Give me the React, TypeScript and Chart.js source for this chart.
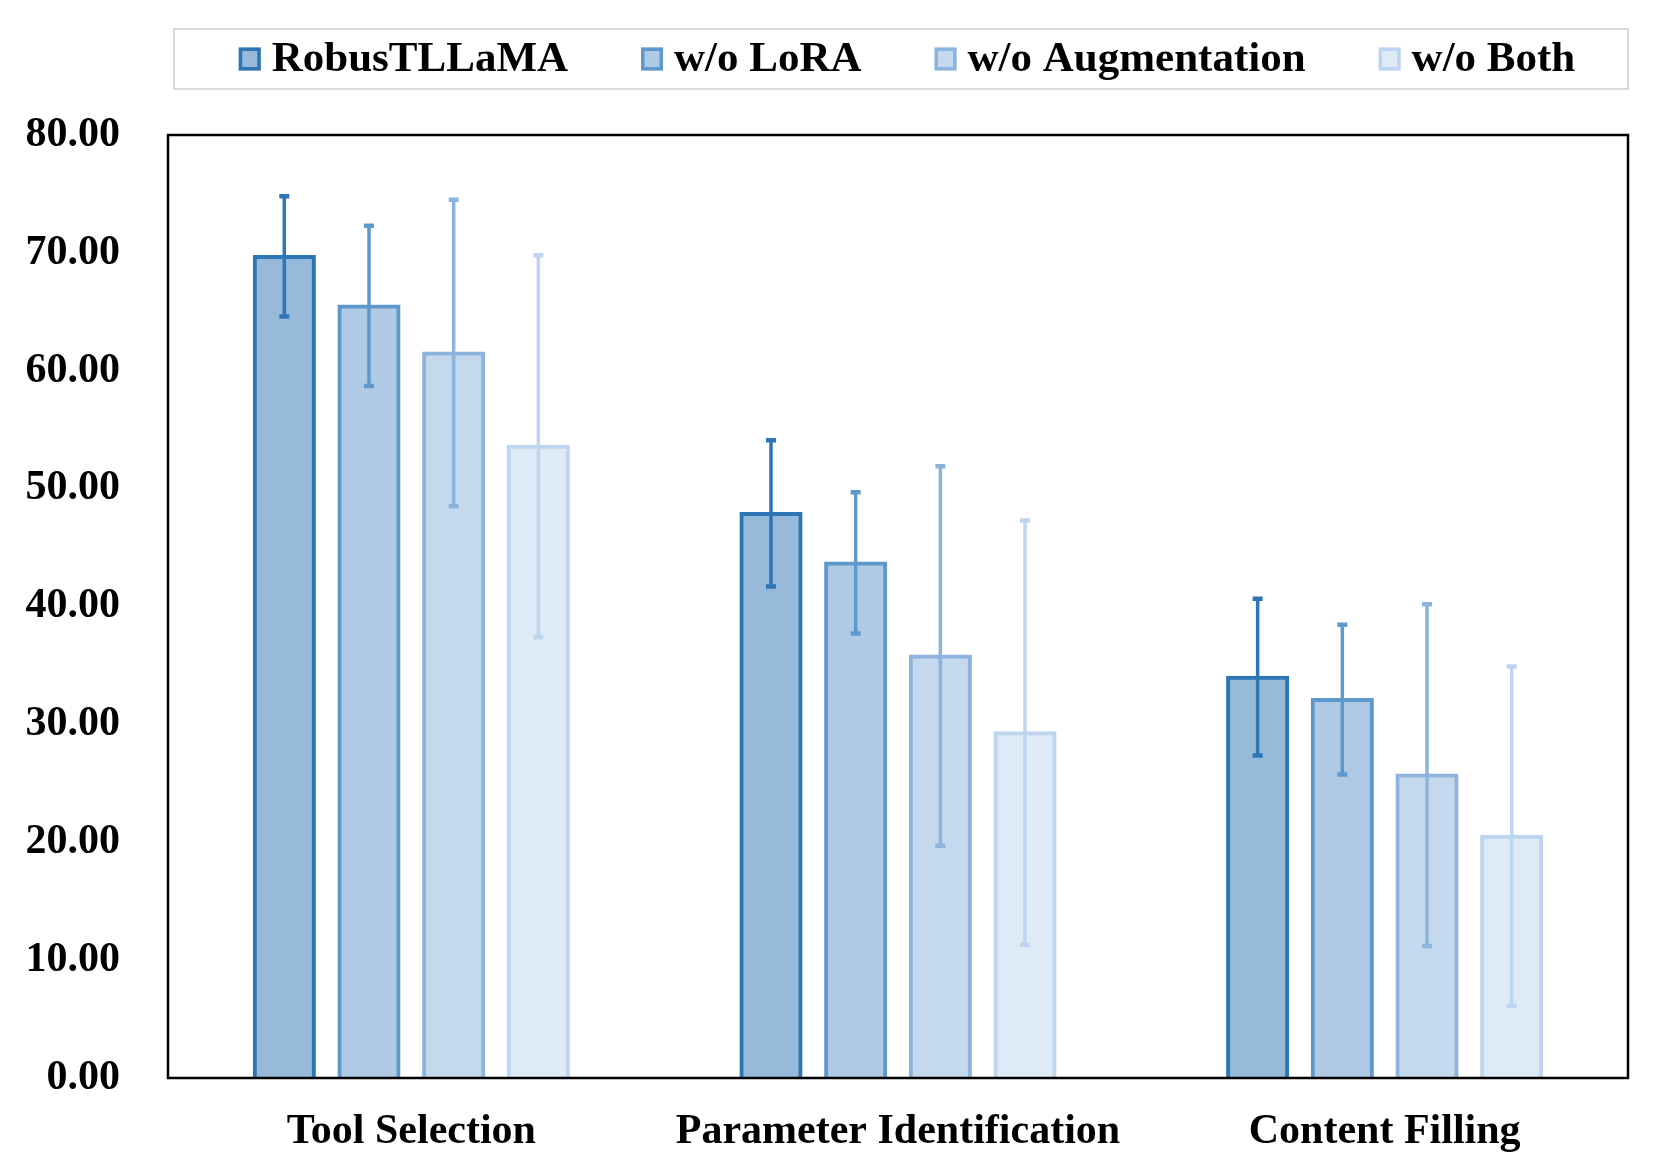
import React, { useEffect, useRef } from "react";
import { Chart, registerables } from "chart.js";

Chart.register(...registerables);

const categories = ["Tool Selection", "Parameter Identification", "Content Filling"];
const seriesNames = ["RobusTLLaMA", "w/o LoRA", "w/o Augmentation", "w/o Both"];

const robusValues = [69.7, 47.9, 34.0];
const robusErrors = [5.1, 6.2, 6.65];
const noLoraValues = [65.5, 43.7, 32.1];
const noLoraErrors = [6.8, 6.0, 6.35];
const noAugValues = [61.5, 35.8, 25.7];
const noAugErrors = [13.0, 16.1, 14.5];
const noBothValues = [53.6, 29.3, 20.5];
const noBothErrors = [16.2, 18.0, 14.4];

const yMin = 0;
const yMax = 80;
const yStep = 10;

const fills = ["#97b9da", "#afcae4", "#c5d9ee", "#deeaf6"];
const borders = ["#2e75b6", "#5f98cb", "#8db4dc", "#bdd5ee"];

const FONT = "'Liberation Serif', 'Times New Roman', serif";

const errorBarPlugin = {
  id: "errorBars",
  afterDatasetsDraw(chart: any) {
    const ctx = chart.ctx;
    const y = chart.scales.y;
    chart.data.datasets.forEach((ds: any, i: number) => {
      const meta = chart.getDatasetMeta(i);
      meta.data.forEach((bar: any, j: number) => {
        const v = ds.data[j];
        const e = ds.errors[j];
        const x = bar.x;
        const yTop = y.getPixelForValue(v + e);
        const yBot = y.getPixelForValue(v - e);
        ctx.save();
        ctx.strokeStyle = ds.borderColor;
        ctx.lineWidth = 3.5;
        ctx.beginPath();
        ctx.moveTo(x, yTop);
        ctx.lineTo(x, yBot);
        ctx.stroke();
        ctx.lineWidth = 4.5;
        ctx.beginPath();
        ctx.moveTo(x - 5, yTop);
        ctx.lineTo(x + 5, yTop);
        ctx.moveTo(x - 5, yBot);
        ctx.lineTo(x + 5, yBot);
        ctx.stroke();
        ctx.restore();
      });
    });
  },
};

const framePlugin = {
  id: "frame",
  afterDraw(chart: any) {
    const { ctx, chartArea } = chart;
    ctx.save();
    ctx.strokeStyle = "#000";
    ctx.lineWidth = 2.5;
    ctx.strokeRect(chartArea.left, chartArea.top, chartArea.right - chartArea.left, chartArea.bottom - chartArea.top);
    ctx.restore();
  },
};

const legendPlugin = {
  id: "boxLegend",
  afterDraw(chart: any) {
    const { ctx, chartArea } = chart;
    const boxLeft = chartArea.left + 6;
    const boxRight = chartArea.right;
    const boxTop = 29;
    const boxBottom = 89;
    ctx.save();
    ctx.strokeStyle = "#d9d9d9";
    ctx.lineWidth = 2;
    ctx.strokeRect(boxLeft, boxTop, boxRight - boxLeft, boxBottom - boxTop);
    ctx.font = `bold 43px ${FONT}`;
    ctx.textBaseline = "middle";
    ctx.fillStyle = "#000";
    const markerW = 22;
    const markerH = 23;
    const gapText = 11;
    const gapItem = 73;
    const widths = chart.data.datasets.map((ds: any) => ctx.measureText(ds.label).width);
    let total = 0;
    widths.forEach((w: number, i: number) => {
      total += markerW + gapText + w + (i < widths.length - 1 ? gapItem : 0);
    });
    let x = (boxLeft + boxRight) / 2 - total / 2 + 6;
    const cy = (boxTop + boxBottom) / 2;
    chart.data.datasets.forEach((ds: any, i: number) => {
      ctx.fillStyle = ds.backgroundColor;
      ctx.fillRect(x, cy - markerH / 2, markerW, markerH);
      ctx.strokeStyle = ds.borderColor;
      ctx.lineWidth = 3.5;
      ctx.strokeRect(x + 1.75, cy - markerH / 2 + 1.75, markerW - 3.5, markerH - 3.5);
      ctx.fillStyle = "#000";
      ctx.fillText(ds.label, x + markerW + gapText, cy + 1);
      x += markerW + gapText + widths[i] + gapItem;
    });
    ctx.restore();
  },
};

export default function App() {
  const ref = useRef<HTMLCanvasElement>(null);
  useEffect(() => {
    if (!ref.current) return;
    const values = [robusValues, noLoraValues, noAugValues, noBothValues];
    const errors = [robusErrors, noLoraErrors, noAugErrors, noBothErrors];
    const chart = new Chart(ref.current, {
      type: "bar",
      data: {
        labels: categories,
        datasets: seriesNames.map((name, i) => ({
          label: name,
          data: values[i],
          errors: errors[i],
          backgroundColor: fills[i],
          borderColor: borders[i],
          borderWidth: 4,
          inflateAmount: 1.5,
          categoryPercentage: 0.696,
          barPercentage: 0.71,
        })) as any,
      },
      options: {
        animation: false,
        responsive: false,
        devicePixelRatio: 1,
        layout: { padding: { top: 135, left: 21, right: 33, bottom: 0 } },
        plugins: { legend: { display: false }, tooltip: { enabled: false } },
        scales: {
          x: {
            grid: { display: false },
            border: { display: false },
            ticks: {
              autoSkip: false,
              maxRotation: 0,
              padding: 21,
              color: "#000",
              font: { family: FONT, size: 42, weight: "bold" },
            },
            afterFit(scale: any) {
              scale.height = 96;
            },
          },
          y: {
            min: yMin,
            max: yMax,
            grid: { display: false, drawTicks: false },
            border: { display: false },
            ticks: {
              stepSize: yStep,
              padding: 48,
              color: "#000",
              font: { family: FONT, size: 42, weight: "bold" },
              callback: (v: any) => Number(v).toFixed(2),
            },
            afterFit(scale: any) {
              scale.width = 147;
            },
          },
        },
      },
      plugins: [errorBarPlugin, framePlugin, legendPlugin],
    });
    return () => chart.destroy();
  }, []);
  return (
    <div style={{ position: "fixed", left: 0, top: 0, width: 1661, height: 1174, background: "#fff" }}>
      <canvas ref={ref} width={1661} height={1174} />
    </div>
  );
}
